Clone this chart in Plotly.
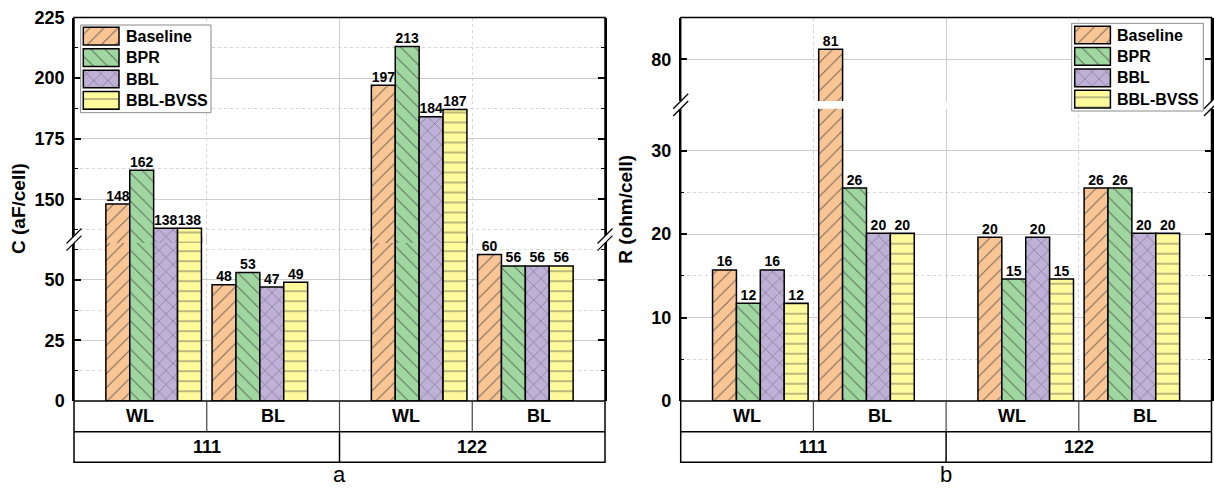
import plotly.graph_objects as go

W, H = 1214, 489

# ---- data -------------------------------------------------------------
series = ["Baseline", "BPR", "BBL", "BBL-BVSS"]
categories = ["WL", "BL", "WL", "BL"]
groups = ["111", "122"]

# capacitance, aF/cell (111 WL, 111 BL, 122 WL, 122 BL)
cap_baseline = [148, 48, 197, 60.4]
cap_bpr = [162, 53, 213, 55.7]
cap_bbl = [138, 47, 184, 55.7]
cap_bvss = [138, 49, 187, 55.7]

# resistance, ohm/cell (111 WL, 111 BL, 122 WL, 122 BL)
res_baseline = [15.7, 81.2, 19.6, 25.5]
res_bpr = [11.7, 25.5, 14.6, 25.5]
res_bbl = [15.7, 20.1, 19.6, 20.1]
res_bvss = [11.7, 20.1, 14.6, 20.1]

cap_ticks_low = [0, 25, 50]
cap_ticks_high = [150, 175, 200, 225]
res_ticks_low = [0, 10, 20, 30]
res_ticks_high = [80]

# ---- styles -----------------------------------------------------------
colors = ["#F9C595", "#A0D7A0", "#BFB0D8", "#FFFB9C"]
hatches = ["/", "\\", "x", "-"]
FONT = "Liberation Sans, Arial, sans-serif"
BW = 0.18           # bar width in category units
INWARD = 0.1        # WL/BL groups are pulled toward each other
GRID = "#cdcdcd"
MINOR_GRID = "#d6d6d6"


def px(x):
    return x / W


def py(y):
    return 1 - y / H


def bold(size, color="black"):
    return dict(family=FONT, size=size, color=color, weight="bold")


fig = go.Figure()
shapes = []
annotations = []
layout = {}


def marker(i):
    return dict(
        color=colors[i],
        line=dict(color="black", width=1.5),
        pattern=dict(shape=hatches[i], size=10, solidity=0.1,
                     fillmode="overlay", bgcolor=colors[i],
                     fgcolor="#404040", fgopacity=0.7),
    )


def label(x, y, text, font, xref="paper", yref="paper", **kw):
    d = dict(x=x, y=y, xref=xref, yref=yref, text=text, showarrow=False,
             font=font, xanchor="center", yanchor="middle")
    d.update(kw)
    annotations.append(d)


def break_mark(cx, cy):
    h, d = 7.5, 3.6
    path = (f"M{px(cx - h)},{py(cy + d + h)} L{px(cx + h)},{py(cy + d - h)} "
            f"L{px(cx + h)},{py(cy - d - h)} L{px(cx - h)},{py(cy - d + h)} Z")
    shapes.append(dict(type="path", xref="paper", yref="paper", path=path,
                       fillcolor="white", line=dict(width=0)))
    for s in (d, -d):
        shapes.append(dict(type="line", xref="paper", yref="paper",
                           x0=px(cx - h), y0=py(cy + s + h),
                           x1=px(cx + h), y1=py(cy + s - h),
                           line=dict(color="black", width=1.3)))


def panel(values, ax, left, right, low, high, title, letter):
    """ax = (x, xtop, ylow, yhigh) axis numbers."""
    xn, xt, yl, yh = ax
    xref = "x" if xn == 1 else f"x{xn}"
    ylref = "y" if yl == 1 else f"y{yl}"
    yhref = f"y{yh}"
    top, base, row1, row2 = 17.5, 401, 431.7, 462.3
    low_range, low_top, low_ticks, low_minor = low
    high_range, high_bot, high_ticks, high_minor = high

    centers = [j + 0.5 + (INWARD if j % 2 == 0 else -INWARD)
               for j in range(len(categories))]

    for i, vals in enumerate(values):
        for yref in (ylref, yhref):
            fig.add_trace(go.Bar(
                x=centers, y=vals, width=BW, offset=(i - 2) * BW,
                xaxis=xref, yaxis=yref, marker=marker(i),
                showlegend=False, hoverinfo="skip"))
        # value labels, placed on whichever segment holds the bar top
        for yref, keep in ((ylref, lambda v: v <= low_range[1]),
                           (yhref, lambda v: v > low_range[1])):
            xs = [c + (i - 2) * BW + BW / 2 for c, v in zip(centers, vals) if keep(v)]
            ys = [v for v in vals if keep(v)]
            if ys:
                fig.add_trace(go.Scatter(
                    x=xs, y=ys, mode="text", text=[f"{v:.0f}" for v in ys],
                    textposition="top center", textfont=bold(14),
                    xaxis=xref, yaxis=yref, cliponaxis=False,
                    showlegend=False, hoverinfo="skip"))

    xdom = [px(left), px(right)]
    xkey = "xaxis" if xn == 1 else f"xaxis{xn}"
    layout[xkey] = dict(
        domain=xdom, range=[0, 4], anchor=ylref, showticklabels=False,
        tickvals=[2], ticks="", showgrid=True, gridcolor=GRID, gridwidth=1,
        zeroline=False, showline=False, automargin=False,
        minor=dict(tickvals=[1, 3], showgrid=True, gridcolor=MINOR_GRID,
                   griddash="dot", ticks=""))
    layout[f"xaxis{xt}"] = dict(
        overlaying=xref, anchor=yhref, side="top", range=[0, 4],
        tickvals=[j + 0.5 for j in range(4)], ticks="inside", ticklen=7,
        tickwidth=1.5, tickcolor="black", showticklabels=False,
        showgrid=False, zeroline=False, showline=False, automargin=False)

    common = dict(showline=True, linecolor="black", linewidth=1.5,
                  mirror="ticks", ticks="inside", ticklen=7, tickwidth=1.5,
                  tickcolor="black", tickfont=bold(18), ticklabelstandoff=4,
                  showgrid=True, gridcolor=GRID, gridwidth=1, zeroline=False,
                  automargin=False)
    layout["yaxis" if yl == 1 else f"yaxis{yl}"] = dict(
        domain=[py(base), py(low_top)], range=low_range, anchor=xref,
        tickvals=low_ticks,
        minor=dict(tickvals=low_minor, ticks="inside", ticklen=4,
                   tickwidth=1.2, tickcolor="black", showgrid=True,
                   gridcolor=MINOR_GRID, griddash="dot"),
        **common)
    layout[f"yaxis{yh}"] = dict(
        domain=[py(high_bot), py(top)], range=high_range, anchor=xref,
        tickvals=high_ticks,
        minor=dict(tickvals=high_minor, ticks="inside", ticklen=4,
                   tickwidth=1.2, tickcolor="black", showgrid=True,
                   gridcolor=MINOR_GRID, griddash="dot"),
        **common)

    # frame and category table
    line = dict(color="black", width=1.5)
    shapes.append(dict(type="rect", xref="paper", yref="paper",
                       x0=px(left), x1=px(right), y0=py(row2), y1=py(top),
                       line=line))
    for yy in (base, row1):
        shapes.append(dict(type="line", xref="paper", yref="paper",
                           x0=px(left), x1=px(right), y0=py(yy), y1=py(yy),
                           line=line))
    for xb in (1, 2, 3):
        shapes.append(dict(type="line", xref=xref, yref="paper", x0=xb, x1=xb,
                           y0=py(base), y1=py(row1),
                           line=dict(color="#444", width=1.2)))
    shapes.append(dict(type="line", xref=xref, yref="paper", x0=2, x1=2,
                       y0=py(row1), y1=py(row2), line=line))
    for j, c in enumerate(categories):
        label(j + 0.5, py((base + row1) / 2), c, bold(18), xref=xref)
    for g, name in enumerate(groups):
        label(2 * g + 1, py((row1 + row2) / 2), name, bold(18), xref=xref)

    gap_mid = (low_top + high_bot) / 2
    break_mark(left, gap_mid)
    break_mark(right, gap_mid)

    label(px(left - 56), py(209), title, bold(19), textangle=-90)
    label(px((left + right) / 2), py(489), letter,
          dict(family=FONT, size=22, color="black"), yanchor="bottom")


def legend_box(axn, x0, y0, x1, y1, sw_x, sw_y0, text_x):
    xr, yr = f"x{axn}", f"y{axn}"
    layout[f"xaxis{axn}"] = dict(domain=[px(x0 - 1), px(x1 + 1)],
                                 range=[x0 - 1, x1 + 1], visible=False,
                                 anchor=yr, fixedrange=True, automargin=False)
    layout[f"yaxis{axn}"] = dict(domain=[py(y1 + 1), py(y0 - 1)],
                                 range=[y1 + 1, y0 - 1], visible=False,
                                 anchor=xr, fixedrange=True, automargin=False)
    # opaque legend panel
    fig.add_trace(go.Bar(
        orientation="h", y=[(y0 + y1) / 2], x=[x1 - x0], base=[x0],
        width=[y1 - y0], xaxis=xr, yaxis=yr,
        marker=dict(color="white", line=dict(color="#8a8a8a", width=1)),
        showlegend=False, hoverinfo="skip"))
    step, sw_w, sw_h = 21.4, 35.7, 17.7
    for i, name in enumerate(series):
        yc = sw_y0 + step * i
        fig.add_trace(go.Bar(
            orientation="h", y=[yc], x=[sw_w], base=[sw_x], width=[sw_h],
            xaxis=xr, yaxis=yr, marker=marker(i), showlegend=False,
            hoverinfo="skip"))
        label(text_x, yc, name, bold(16), xref=xr, yref=yr, xanchor="left")


panel([cap_baseline, cap_bpr, cap_bbl, cap_bvss], (1, 2, 1, 2),
      74, 605,
      ([0, 68], 236.2, cap_ticks_low, [12.5, 37.5, 62.5]),
      ([132, 225], 242.9, cap_ticks_high, [137.5, 162.5, 187.5, 212.5]),
      "C (aF/cell)", "a")
panel([res_baseline, res_bpr, res_bbl, res_bvss], (3, 4, 3, 4),
      680.7, 1211.5,
      ([0, 35], 108.75, res_ticks_low, [5, 15, 25]),
      ([75, 85], 101, res_ticks_high, []),
      "R (ohm/cell)", "b")

legend_box(5, 80.7, 25, 211, 112.7, 83.3, 36.2, 124)
legend_box(6, 1071.7, 23.3, 1203.3, 111, 1074.7, 35, 1115)

fig.update_layout(
    template="none",
    width=W, height=H, margin=dict(l=0, r=0, t=0, b=0, pad=0),
    paper_bgcolor="white", plot_bgcolor="rgba(0,0,0,0)",
    barmode="overlay", showlegend=False,
    shapes=shapes, annotations=annotations, **layout)

fig.write_html("out.html")
